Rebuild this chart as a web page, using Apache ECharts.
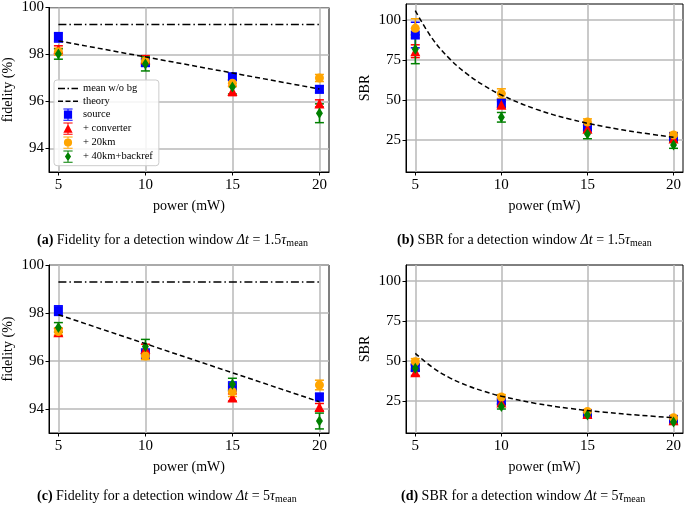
<!DOCTYPE html>
<html>
<head>
<meta charset="utf-8">
<script src="https://cdn.jsdelivr.net/npm/echarts@6/dist/echarts.min.js"></script>
<style>html,body{margin:0;padding:0;background:#fff}#c{width:685px;height:506px}</style>
</head>
<body>
<div id="c"></div>
<script>
// ---------- data ----------
const powers = [5, 10, 15, 20];
const xTicks = [5, 10, 15, 20];
const fidTicks = [94, 96, 98, 100];
const sbrTicks = [25, 50, 75, 100];
const seriesNames = ['source', '+ converter', '+ 20km', '+ 40km+backref'];

// (a) fidelity, window 1.5 tau
const aSource = [98.73, 97.65, 97.05, 96.52];
const aSourceErr = [0.2, 0.15, 0.15, 0.15];
const aConv = [98.22, 97.8, 96.45, 95.92];
const aConvErr = [0.15, 0.15, 0.2, 0.15];
const a20km = [98.12, 97.72, 96.78, 97.0];
const a20kmErr = [0.15, 0.15, 0.15, 0.15];
const a40km = [98.02, 97.6, 96.62, 95.5];
const a40kmErr = [0.22, 0.3, 0.3, 0.4];
const aMean = 99.28;
const aTheoryX = [5, 20];
const aTheory = [98.58, 96.53];

// (b) SBR, window 1.5 tau
const bSource = [90.6, 48, 33, 27];
const bSourceErr = [8, 2.5, 2, 1.5];
const bConv = [80.5, 47, 32, 26];
const bConvErr = [4, 2, 2, 1.5];
const b20km = [94.8, 54, 36.2, 28.2];
const b20kmErr = [6, 3, 2, 1.5];
const b40km = [81.7, 39.2, 28.8, 21.8];
const b40kmErr = [9, 3, 3, 2];
const curveX = [5, 6, 7, 8, 9, 10, 12, 14, 16, 18, 20];
const bTheory = [105.8, 88.2, 75.7, 66.3, 59, 53.1, 44.3, 38, 33.3, 29.7, 26.7];

// (c) fidelity, window 5 tau
const cSource = [98.1, 96.3, 94.93, 94.5];
const cSourceErr = [0.2, 0.2, 0.2, 0.15];
const cConv = [97.2, 96.5, 94.48, 94.08];
const cConvErr = [0.15, 0.2, 0.15, 0.15];
const c20km = [97.23, 96.21, 94.72, 95.0];
const c20kmErr = [0.15, 0.15, 0.2, 0.2];
const c40km = [97.4, 96.6, 95.03, 93.5];
const c40kmErr = [0.2, 0.3, 0.25, 0.33];
const cMean = 99.29;
const cTheoryX = [5, 20];
const cTheory = [97.93, 94.3];

// (d) SBR, window 5 tau
const dSource = [46, 25, 17.2, 13.5];
const dSourceErr = [2, 1.5, 1, 1];
const dConv = [43, 24, 16.8, 13];
const dConvErr = [2, 1.5, 1, 1];
const d20km = [49.5, 27.5, 18.5, 14.5];
const d20kmErr = [2, 1.5, 1, 1];
const d40km = [45.5, 21.5, 16.2, 11.9];
const d40kmErr = [2, 1.5, 1.5, 1.5];
const dTheory = [54.8, 46, 39.5, 34.7, 31, 28, 23.5, 20.3, 18, 16.1, 14.6];

// ---------- styling ----------
const FONT = 'Liberation Serif';
const colors = ['#0000ff', '#ff0000', '#ffa500', '#008000'];
const symbols = ['rect', 'triangle', 'circle', 'diamond'];
const symSizes = [9, 10, 9, [7, 11]];
const legendIcons = [
  'path://M0,0H9V1H0ZM0,11H9V12H0ZM4,0H5V12H4ZM0.5,2H8.5V10H0.5Z',
  'path://M0,0H9V1H0ZM0,11H9V12H0ZM4,0H5V12H4ZM4.5,1.5L9,10L0,10Z',
  'path://M0,0H9V1H0ZM0,11H9V12H0ZM4,0H5V12H4ZM0.5,6A4,4 0 1,1 8.5,6A4,4 0 1,1 0.5,6Z',
  'path://M0,0H9V1H0ZM0,11H9V12H0ZM4,0H5V12H4ZM4.5,1.5L7.5,6L4.5,10.5L1.5,6Z'
];
const dashDotIcon = 'path://M0,0H7V1.5H0ZM9.5,0H11V1.5H9.5ZM13.5,0H20V1.5H13.5Z';
const dashIcon = 'path://M0,0H5V1.5H0ZM7.5,0H12.5V1.5H7.5ZM15,0H20V1.5H15Z';

const grids = [
  {left: 49, top: 4, width: 280, height: 168},
  {left: 406, top: 4, width: 277, height: 168},
  {left: 49, top: 265, width: 280, height: 168},
  {left: 406, top: 265, width: 277, height: 168}
].map(g => Object.assign({show: true, borderColor: '#000', borderWidth: 1, backgroundColor: 'transparent'}, g));

const gridLine = {show: true, lineStyle: {color: '#b8b8b8', width: 1.5}};

function xAxis(gi) {
  return {
    type: 'value', gridIndex: gi, min: 4.46, max: 20.55,
    name: 'power (mW)', nameLocation: 'middle', nameGap: 27,
    nameTextStyle: {fontFamily: FONT, fontSize: 14, color: '#000'},
    axisLine: {show: true, onZero: false, lineStyle: {color: '#000', width: 1}},
    axisTick: {show: true, inside: false, length: 3.5, customValues: xTicks, lineStyle: {color: '#000', width: 1}},
    axisLabel: {customValues: xTicks, fontFamily: FONT, fontSize: 15, color: '#000', margin: 6},
    splitLine: gridLine
  };
}
function yAxis(gi, name, min, max, ticks) {
  return {
    type: 'value', gridIndex: gi, min: min, max: max,
    name: name, nameLocation: 'middle', nameGap: 34, nameRotate: 90,
    nameTextStyle: {fontFamily: FONT, fontSize: 14, color: '#000'},
    axisLine: {show: true, onZero: false, lineStyle: {color: '#000', width: 1}},
    axisTick: {show: true, inside: false, length: 3.5, customValues: ticks, lineStyle: {color: '#000', width: 1}},
    axisLabel: {customValues: ticks, fontFamily: FONT, fontSize: 15, color: '#000', margin: 5},
    splitLine: gridLine
  };
}

function errSeries(gi, k, vals, errs) {
  const color = colors[k];
  return {
    type: 'custom', name: seriesNames[k] + ' err', xAxisIndex: gi, yAxisIndex: gi, silent: true,
    data: powers.map((p, i) => [p, vals[i], errs[i]]),
    encode: {x: 0, y: 1},
    renderItem: function (params, api) {
      const x = api.value(0), y = api.value(1), e = api.value(2);
      const t = api.coord([x, y + e]), b = api.coord([x, y - e]);
      const hw = 4.5, st = {stroke: color, lineWidth: 1.5};
      return {type: 'group', children: [
        {type: 'line', shape: {x1: t[0], y1: t[1], x2: b[0], y2: b[1]}, style: st},
        {type: 'line', shape: {x1: t[0] - hw, y1: t[1], x2: t[0] + hw, y2: t[1]}, style: st},
        {type: 'line', shape: {x1: b[0] - hw, y1: b[1], x2: b[0] + hw, y2: b[1]}, style: st}
      ]};
    }
  };
}
function markSeries(gi, k, vals) {
  return {
    type: 'scatter', name: seriesNames[k], xAxisIndex: gi, yAxisIndex: gi,
    symbol: symbols[k], symbolSize: symSizes[k],
    itemStyle: {color: colors[k], opacity: 1},
    data: powers.map((p, i) => [p, vals[i]])
  };
}
function lineSeries(gi, name, xs, ys, type, smooth) {
  return {
    type: 'line', name: name, xAxisIndex: gi, yAxisIndex: gi, symbol: 'none', smooth: smooth ? 0.4 : false,
    lineStyle: {color: '#000', width: 1.5, type: type},
    itemStyle: {color: '#000'},
    data: xs.map((x, i) => [x, ys[i]])
  };
}

const DASHDOT = [8, 3, 1.5, 3];
const DASH = [5, 3];

const panels = [
  {gi: 0, vals: [aSource, aConv, a20km, a40km], errs: [aSourceErr, aConvErr, a20kmErr, a40kmErr]},
  {gi: 1, vals: [bSource, bConv, b20km, b40km], errs: [bSourceErr, bConvErr, b20kmErr, b40kmErr]},
  {gi: 2, vals: [cSource, cConv, c20km, c40km], errs: [cSourceErr, cConvErr, c20kmErr, c40kmErr]},
  {gi: 3, vals: [dSource, dConv, d20km, d40km], errs: [dSourceErr, dConvErr, d20kmErr, d40kmErr]}
];

const series = [];
series.push(lineSeries(0, 'mean w/o bg', [5, 20], [aMean, aMean], DASHDOT));
series.push(lineSeries(0, 'theory', aTheoryX, aTheory, DASH));
series.push(lineSeries(1, 'theory b', curveX, bTheory, DASH, true));
series.push(lineSeries(2, 'mean c', [5, 20], [cMean, cMean], DASHDOT));
series.push(lineSeries(2, 'theory c', cTheoryX, cTheory, DASH));
series.push(lineSeries(3, 'theory d', curveX, dTheory, DASH, true));
panels.forEach(p => {
  for (let k = 0; k < 4; k++) {
    series.push(errSeries(p.gi, k, p.vals[k], p.errs[k]));
    const m = markSeries(p.gi, k, p.vals[k]);
    if (p.gi !== 0) m.name = seriesNames[k] + ' ' + p.gi;
    series.push(m);
  }
});

const CF = 14;
const capRich = {
  n: {fontFamily: FONT, fontSize: CF, color: '#000', lineHeight: 16},
  b: {fontFamily: FONT, fontSize: CF, fontWeight: 'bold', color: '#000', lineHeight: 16},
  i: {fontFamily: FONT, fontSize: CF, fontStyle: 'italic', color: '#000', lineHeight: 16},
  s: {fontFamily: FONT, fontSize: 10, color: '#000', lineHeight: 9, verticalAlign: 'bottom', padding: [3, 0, 0, 0]}
};
function caption(letter, what, factor, left, top) {
  return {
    left: left, top: top, padding: 0,
    text: '{b|(' + letter + ')}{n| ' + what + ' for a detection window }{i|Δt}{n| = ' + factor + '}{i|τ}{s|mean}',
    textStyle: {rich: capRich, fontFamily: FONT, fontSize: CF, fontWeight: 'normal', color: '#000'}
  };
}

const option = {
  animation: false,
  backgroundColor: '#fff',
  grid: grids,
  xAxis: [xAxis(0), xAxis(1), xAxis(2), xAxis(3)],
  yAxis: [
    yAxis(0, 'fidelity (%)', 93, 100, fidTicks),
    yAxis(1, 'SBR', 5, 110, sbrTicks),
    yAxis(2, 'fidelity (%)', 93, 100, fidTicks),
    yAxis(3, 'SBR', 5, 110, sbrTicks)
  ],
  title: [
    caption('a', 'Fidelity', '1.5', 37, 232),
    caption('b', 'SBR', '1.5', 397, 232),
    caption('c', 'Fidelity', '5', 37, 488),
    caption('d', 'SBR', '5', 401, 488)
  ],
  legend: {
    orient: 'vertical', left: 54, top: 80,
    padding: [3, 6, 3, 4], itemGap: 1.7, itemWidth: 20, itemHeight: 12.3,
    backgroundColor: 'rgba(255,255,255,0.85)', borderColor: '#cccccc', borderWidth: 1, borderRadius: 3,
    textStyle: {fontFamily: FONT, fontSize: 10.5, color: '#000'},
    selectedMode: false,
    data: [
      {name: 'mean w/o bg', icon: dashDotIcon},
      {name: 'theory', icon: dashIcon},
      {name: 'source', icon: legendIcons[0]},
      {name: '+ converter', icon: legendIcons[1]},
      {name: '+ 20km', icon: legendIcons[2]},
      {name: '+ 40km+backref', icon: legendIcons[3]}
    ]
  },
  series: series
};

const chart = echarts.init(document.getElementById('c'), null, {renderer: 'canvas'});
chart.setOption(option);
</script>
</body>
</html>
